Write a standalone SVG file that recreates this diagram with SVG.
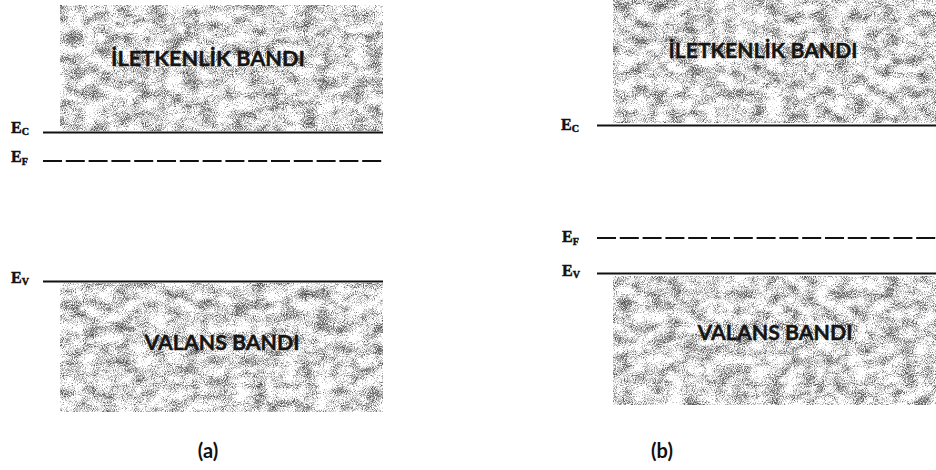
<svg xmlns="http://www.w3.org/2000/svg" width="936" height="470" viewBox="0 0 936 470">
  <defs>
    <!-- speckled grey grain used to fill the energy bands -->
    <filter id="grain" x="0" y="0" width="1" height="1" color-interpolation-filters="sRGB">
      <feTurbulence type="fractalNoise" baseFrequency="0.06 0.09" numOctaves="3" seed="4" result="blotRaw"/>
      <feColorMatrix in="blotRaw" type="matrix" values="1 0 0 0 0  1 0 0 0 0  1 0 0 0 0  0 0 0 0 1" result="blot"/>
      <feTurbulence type="fractalNoise" baseFrequency="0.9" numOctaves="2" seed="9" result="fineRaw"/>
      <feColorMatrix in="fineRaw" type="matrix" values="1 0 0 0 0  1 0 0 0 0  1 0 0 0 0  0 0 0 0 1" result="fine"/>
      <feComposite in="fine" in2="blot" operator="arithmetic" k1="0" k2="1.1" k3="0.75" k4="-0.425" result="mix"/>
      <feColorMatrix in="mix" type="matrix" values="0 0 0 0 0.33  0 0 0 0 0.33  0 0 0 0 0.33  2.4 0 0 0 -1.02"/>
    </filter>
    <style>
      .band { fill: #fff; filter: url(#grain); }
      .bandtxt { font-family: Lato, "Open Sans", "Liberation Sans", sans-serif; font-weight: 700; font-size: 21px; fill: #151515; text-anchor: middle; stroke: #151515; stroke-width: 0.4; }
      .caption { font-family: Lato, "Open Sans", "Liberation Sans", sans-serif; font-weight: 700; font-size: 20px; fill: #111; text-anchor: middle; }
      .lvl { font-family: "Liberation Serif", "DejaVu Serif", serif; font-weight: 700; font-size: 16px; fill: #111; stroke: #111; stroke-width: 0.5; }
      .sub { font-size: 10px; }
      .edge { stroke: #111; stroke-width: 2; fill: none; }
      .fermi { stroke: #111; stroke-width: 2; fill: none; stroke-dasharray: 19 3.8; }
    </style>
  </defs>

  <!-- panel (a): Fermi level just below the conduction band -->
  <g id="a-conduction">
    <rect class="band" x="60" y="5" width="323" height="126"/>
    <text class="bandtxt" x="208" y="66" textLength="194" lengthAdjust="spacingAndGlyphs">İLETKENLİK BANDI</text>
  </g>
  <g id="a-valence">
    <rect class="band" x="60" y="283" width="323" height="129"/>
    <text class="bandtxt" x="222" y="350" textLength="155" lengthAdjust="spacingAndGlyphs">VALANS BANDI</text>
  </g>
  <g id="a-labels">
    <text class="lvl" x="11" y="133">E<tspan class="sub" dy="2">C</tspan></text>
    <text class="lvl" x="11" y="162">E<tspan class="sub" dy="3">F</tspan></text>
    <text class="lvl" x="11" y="283">E<tspan class="sub" dy="2">V</tspan></text>
    <text class="caption" x="208" y="458">(a)</text>
  </g>

  <!-- panel (b): Fermi level just above the valence band -->
  <g id="b-conduction">
    <rect class="band" x="613" y="0" width="323" height="123"/>
    <text class="bandtxt" x="763" y="58" textLength="189" lengthAdjust="spacingAndGlyphs">İLETKENLİK BANDI</text>
  </g>
  <g id="b-valence">
    <rect class="band" x="613" y="276" width="323" height="129"/>
    <text class="bandtxt" x="775" y="340" textLength="155" lengthAdjust="spacingAndGlyphs">VALANS BANDI</text>
  </g>
  <g id="b-labels">
    <text class="lvl" x="561" y="130">E<tspan class="sub" dy="2">C</tspan></text>
    <text class="lvl" x="562" y="242">E<tspan class="sub" dy="3">F</tspan></text>
    <text class="lvl" x="562" y="276">E<tspan class="sub" dy="2">V</tspan></text>
    <text class="caption" x="662" y="458">(b)</text>
  </g>

  <!-- band edges and Fermi levels -->
  <g id="levels">
    <line class="edge" x1="43" y1="132.5" x2="383" y2="132.5"/>
    <line class="fermi" x1="43" y1="161" x2="383" y2="161"/>
    <line class="edge" x1="43" y1="281.5" x2="383" y2="281.5"/>
    <line class="edge" x1="597" y1="125.5" x2="936" y2="125.5"/>
    <line class="fermi" x1="597" y1="238" x2="936" y2="238"/>
    <line class="edge" x1="597" y1="273.5" x2="936" y2="273.5"/>
  </g>
</svg>
